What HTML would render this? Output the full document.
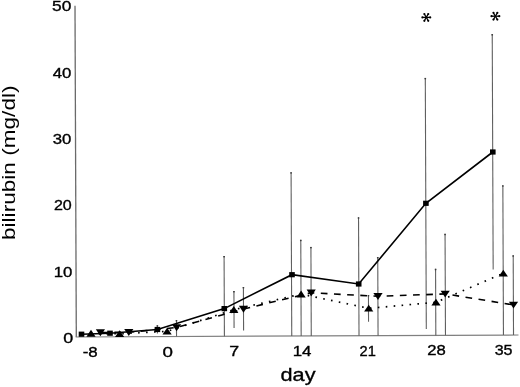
<!DOCTYPE html>
<html><head><meta charset="utf-8"><style>
html,body{margin:0;padding:0;background:#fff;width:520px;height:387px;overflow:hidden;}
svg{display:block;font-family:"Liberation Sans",sans-serif;will-change:transform;}
text{stroke:#000;stroke-width:0.35px;}
</style></head><body>
<svg width="520" height="387" viewBox="0 0 520 387">
<line x1="75.0" y1="5.8" x2="76.3" y2="337.00" stroke="#6a6a6a" stroke-width="1.3"/>
<line x1="75.7" y1="337.00" x2="518.5" y2="335.01" stroke="#808080" stroke-width="1.2"/>
<line x1="157.38" y1="325.2" x2="157.42" y2="333.60" stroke="#606060" stroke-width="1.1"/>
<rect x="156.58" y="325.20" width="1.6" height="1.4" fill="#3c3c3c"/>
<line x1="224.09" y1="256.0" x2="224.41" y2="336.33" stroke="#606060" stroke-width="1.1"/>
<rect x="223.29" y="256.00" width="1.6" height="1.4" fill="#3c3c3c"/>
<line x1="291.09" y1="172.2" x2="291.75" y2="336.03" stroke="#606060" stroke-width="1.1"/>
<rect x="290.29" y="172.20" width="1.6" height="1.4" fill="#3c3c3c"/>
<line x1="358.53" y1="217.3" x2="359.01" y2="335.73" stroke="#606060" stroke-width="1.1"/>
<rect x="357.73" y="217.30" width="1.6" height="1.4" fill="#3c3c3c"/>
<line x1="425.30" y1="77.9" x2="426.30" y2="329.00" stroke="#606060" stroke-width="1.1"/>
<rect x="424.50" y="77.90" width="1.6" height="1.4" fill="#3c3c3c"/>
<line x1="492.23" y1="34.1" x2="493.17" y2="269.50" stroke="#606060" stroke-width="1.1"/>
<rect x="491.43" y="34.10" width="1.6" height="1.4" fill="#3c3c3c"/>
<line x1="233.93" y1="291.0" x2="234.07" y2="328.00" stroke="#606060" stroke-width="1.1"/>
<rect x="233.13" y="291.00" width="1.6" height="1.4" fill="#3c3c3c"/>
<line x1="300.78" y1="239.8" x2="301.17" y2="335.99" stroke="#606060" stroke-width="1.1"/>
<rect x="299.98" y="239.80" width="1.6" height="1.4" fill="#3c3c3c"/>
<line x1="368.45" y1="295.0" x2="368.55" y2="321.70" stroke="#606060" stroke-width="1.1"/>
<rect x="367.65" y="295.00" width="1.6" height="1.4" fill="#3c3c3c"/>
<line x1="435.57" y1="268.8" x2="435.83" y2="335.38" stroke="#606060" stroke-width="1.1"/>
<rect x="434.77" y="268.80" width="1.6" height="1.4" fill="#3c3c3c"/>
<line x1="502.85" y1="185.3" x2="503.45" y2="335.08" stroke="#606060" stroke-width="1.1"/>
<rect x="502.05" y="185.30" width="1.6" height="1.4" fill="#3c3c3c"/>
<line x1="176.47" y1="320.0" x2="176.54" y2="336.55" stroke="#606060" stroke-width="1.1"/>
<rect x="175.67" y="320.00" width="1.6" height="1.4" fill="#3c3c3c"/>
<line x1="243.41" y1="287.0" x2="243.59" y2="330.50" stroke="#606060" stroke-width="1.1"/>
<rect x="242.61" y="287.00" width="1.6" height="1.4" fill="#3c3c3c"/>
<line x1="310.92" y1="246.9" x2="311.27" y2="335.94" stroke="#606060" stroke-width="1.1"/>
<rect x="310.12" y="246.90" width="1.6" height="1.4" fill="#3c3c3c"/>
<line x1="377.74" y1="257.0" x2="378.06" y2="335.64" stroke="#606060" stroke-width="1.1"/>
<rect x="376.94" y="257.00" width="1.6" height="1.4" fill="#3c3c3c"/>
<line x1="445.06" y1="233.8" x2="445.47" y2="335.34" stroke="#606060" stroke-width="1.1"/>
<rect x="444.26" y="233.80" width="1.6" height="1.4" fill="#3c3c3c"/>
<line x1="513.20" y1="255.3" x2="513.52" y2="335.03" stroke="#606060" stroke-width="1.1"/>
<rect x="512.40" y="255.30" width="1.6" height="1.4" fill="#3c3c3c"/>
<polyline points="91.00,333.40 119.60,333.80 167.10,331.30 233.80,309.70 301.10,294.10 368.70,308.30 436.00,302.30 503.30,273.30" fill="none" stroke="#000" stroke-width="1.7" stroke-dasharray="1.6 6.35" stroke-dashoffset="0.55"/>
<polyline points="100.40,332.50 128.80,332.30 176.60,327.50 243.50,309.00 311.20,292.80 378.00,296.30 445.20,293.90 513.50,304.90" fill="none" stroke="#000" stroke-width="1.6" stroke-dasharray="6.7 6.49" stroke-dashoffset="-0.85"/>
<polyline points="81.50,334.20 110.00,333.20 157.40,329.50 224.30,308.60 292.00,274.70 358.70,284.00 425.90,203.30 492.80,152.00" fill="none" stroke="#000" stroke-width="1.6"/>
<rect x="78.70" y="331.60" width="5.6" height="5.2" fill="#000"/>
<rect x="107.20" y="330.60" width="5.6" height="5.2" fill="#000"/>
<rect x="154.60" y="326.90" width="5.6" height="5.2" fill="#000"/>
<rect x="221.50" y="306.00" width="5.6" height="5.2" fill="#000"/>
<rect x="289.20" y="272.10" width="5.6" height="5.2" fill="#000"/>
<rect x="355.90" y="281.40" width="5.6" height="5.2" fill="#000"/>
<rect x="423.10" y="200.70" width="5.6" height="5.2" fill="#000"/>
<rect x="490.00" y="149.40" width="5.6" height="5.2" fill="#000"/>
<polygon points="91.00,329.80 95.60,336.70 86.40,336.70" fill="#000"/>
<polygon points="119.60,330.20 124.20,337.10 115.00,337.10" fill="#000"/>
<polygon points="167.10,327.70 171.70,334.60 162.50,334.60" fill="#000"/>
<polygon points="233.80,306.10 238.40,313.00 229.20,313.00" fill="#000"/>
<polygon points="301.10,290.50 305.70,297.40 296.50,297.40" fill="#000"/>
<polygon points="368.70,304.70 373.30,311.60 364.10,311.60" fill="#000"/>
<polygon points="436.00,298.70 440.60,305.60 431.40,305.60" fill="#000"/>
<polygon points="503.30,269.70 507.90,276.60 498.70,276.60" fill="#000"/>
<polygon points="95.80,329.30 105.00,329.30 100.40,336.20" fill="#000"/>
<polygon points="124.20,329.10 133.40,329.10 128.80,336.00" fill="#000"/>
<polygon points="172.00,324.30 181.20,324.30 176.60,331.20" fill="#000"/>
<polygon points="238.90,305.80 248.10,305.80 243.50,312.70" fill="#000"/>
<polygon points="306.60,289.60 315.80,289.60 311.20,296.50" fill="#000"/>
<polygon points="373.40,293.10 382.60,293.10 378.00,300.00" fill="#000"/>
<polygon points="440.60,290.70 449.80,290.70 445.20,297.60" fill="#000"/>
<polygon points="508.90,301.70 518.10,301.70 513.50,308.60" fill="#000"/>
<line x1="426.30" y1="17.40" x2="430.20" y2="17.40" stroke="#000" stroke-width="1.3"/><circle cx="430.20" cy="17.40" r="1.1" fill="#000"/><line x1="426.30" y1="17.40" x2="428.25" y2="20.78" stroke="#000" stroke-width="1.3"/><circle cx="428.25" cy="20.78" r="1.1" fill="#000"/><line x1="426.30" y1="17.40" x2="424.35" y2="20.78" stroke="#000" stroke-width="1.3"/><circle cx="424.35" cy="20.78" r="1.1" fill="#000"/><line x1="426.30" y1="17.40" x2="422.40" y2="17.40" stroke="#000" stroke-width="1.3"/><circle cx="422.40" cy="17.40" r="1.1" fill="#000"/><line x1="426.30" y1="17.40" x2="424.35" y2="14.02" stroke="#000" stroke-width="1.3"/><circle cx="424.35" cy="14.02" r="1.1" fill="#000"/><line x1="426.30" y1="17.40" x2="428.25" y2="14.02" stroke="#000" stroke-width="1.3"/><circle cx="428.25" cy="14.02" r="1.1" fill="#000"/>
<line x1="495.40" y1="16.20" x2="499.30" y2="16.20" stroke="#000" stroke-width="1.3"/><circle cx="499.30" cy="16.20" r="1.1" fill="#000"/><line x1="495.40" y1="16.20" x2="497.35" y2="19.58" stroke="#000" stroke-width="1.3"/><circle cx="497.35" cy="19.58" r="1.1" fill="#000"/><line x1="495.40" y1="16.20" x2="493.45" y2="19.58" stroke="#000" stroke-width="1.3"/><circle cx="493.45" cy="19.58" r="1.1" fill="#000"/><line x1="495.40" y1="16.20" x2="491.50" y2="16.20" stroke="#000" stroke-width="1.3"/><circle cx="491.50" cy="16.20" r="1.1" fill="#000"/><line x1="495.40" y1="16.20" x2="493.45" y2="12.82" stroke="#000" stroke-width="1.3"/><circle cx="493.45" cy="12.82" r="1.1" fill="#000"/><line x1="495.40" y1="16.20" x2="497.35" y2="12.82" stroke="#000" stroke-width="1.3"/><circle cx="497.35" cy="12.82" r="1.1" fill="#000"/>
<text transform="translate(52.09,11.25) scale(1.195,1)" font-family="'Liberation Sans', sans-serif" font-size="14.5">50</text>
<text transform="translate(52.79,78.25) scale(1.157,1)" font-family="'Liberation Sans', sans-serif" font-size="14.5">40</text>
<text transform="translate(52.78,144.05) scale(1.156,1)" font-family="'Liberation Sans', sans-serif" font-size="14.5">30</text>
<text transform="translate(53.92,210.40) scale(1.108,1)" font-family="'Liberation Sans', sans-serif" font-size="14.5">20</text>
<text transform="translate(53.64,277.00) scale(1.158,1)" font-family="'Liberation Sans', sans-serif" font-size="14.5">10</text>
<text transform="translate(63.16,343.19) scale(1.235,1)" font-family="'Liberation Sans', sans-serif" font-size="14.5">0</text>
<text transform="translate(82.64,356.60) scale(1.165,1)" font-family="'Liberation Sans', sans-serif" font-size="14.5">-8</text>
<text transform="translate(162.44,356.95) scale(1.294,1)" font-family="'Liberation Sans', sans-serif" font-size="14.5">0</text>
<text transform="translate(229.26,355.96) scale(1.225,1)" font-family="'Liberation Sans', sans-serif" font-size="14.5">7</text>
<text transform="translate(292.65,356.09) scale(1.165,1)" font-family="'Liberation Sans', sans-serif" font-size="14.5">14</text>
<text transform="translate(359.60,355.60) scale(1.010,1)" font-family="'Liberation Sans', sans-serif" font-size="14.5">21</text>
<text transform="translate(427.34,355.23) scale(1.150,1)" font-family="'Liberation Sans', sans-serif" font-size="14.5">28</text>
<text transform="translate(494.66,354.60) scale(1.105,1)" font-family="'Liberation Sans', sans-serif" font-size="14.5">35</text>
<text x="280.5" y="381.3" font-family="'Liberation Sans', sans-serif" font-size="19" textLength="35" lengthAdjust="spacingAndGlyphs">day</text>
<text transform="translate(15.1,240) rotate(-90)" font-family="'Liberation Sans', sans-serif" font-size="19" style="stroke-width:0" textLength="154.5" lengthAdjust="spacingAndGlyphs">bilirubin (mg/dl)</text>
</svg>
</body></html>
